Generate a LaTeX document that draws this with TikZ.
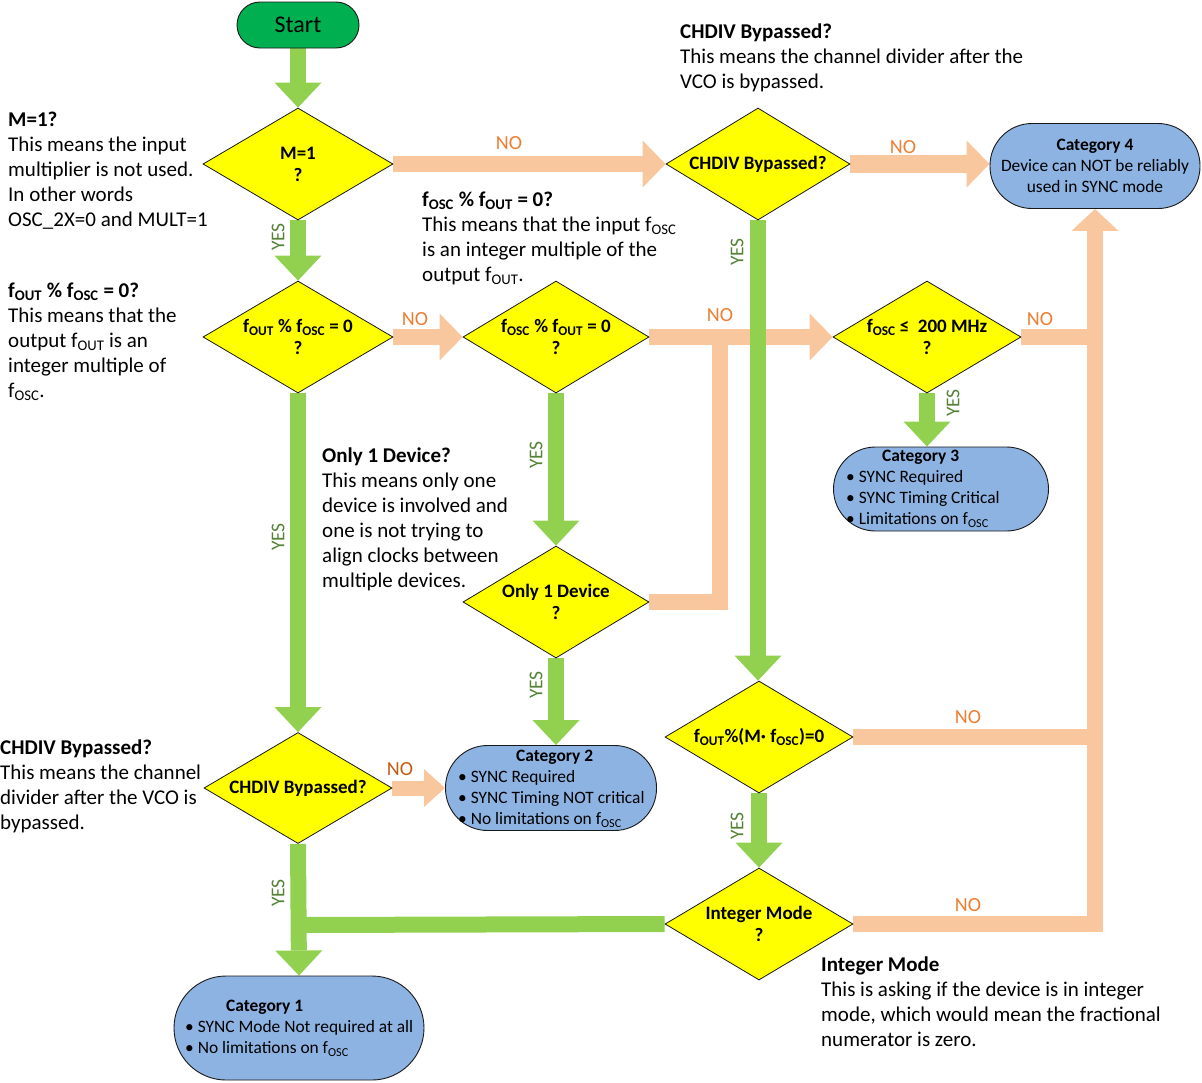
\documentclass[tikz,border=0pt]{standalone}
\usepackage{fontspec}
\setmainfont{Carlito}
\usetikzlibrary{shapes.geometric,arrows.meta}
\definecolor{grn}{RGB}{146,208,80}
\definecolor{pch}{RGB}{249,199,158}
\definecolor{ylw}{RGB}{255,255,0}
\definecolor{catb}{RGB}{141,179,226}
\definecolor{startg}{RGB}{0,176,80}
\definecolor{nocol}{RGB}{237,125,49}
\definecolor{nocold}{RGB}{197,90,17}
\definecolor{yescol}{RGB}{84,130,53}
\definecolor{edgec}{RGB}{25,25,25}
\newcommand\fOUT{f\textsubscript{OUT}}
\newcommand\fOSC{f\textsubscript{OSC}}
\pgfdeclarelayer{bg}
\pgfsetlayers{bg,main}
\begin{document}
\begin{tikzpicture}[x=1pt,y=-1pt,
  dia/.style={diamond, aspect=1.7, draw=edgec, line width=0.8pt, fill=ylw, inner sep=0pt, align=center,
    minimum height=112pt, font=\bfseries\fontsize{19}{22}\selectfont},
  catbox/.style={rectangle, draw=edgec, line width=0.9pt, fill=catb},
  cattext/.style={anchor=north west, inner sep=0pt, align=left, font=\fontsize{17.4}{21}\selectfont},
  desc/.style={anchor=north west, inner sep=0pt, align=left, font=\fontsize{21}{25}\selectfont},
  nolab/.style={text=nocol, inner sep=0pt, font=\fontsize{20}{22}\selectfont},
  yeslab/.style={text=yescol, inner sep=0pt, rotate=90, font=\fontsize{19.5}{21}\selectfont},
  parrow/.style={draw=pch, line width=16pt, -{Triangle[width=47pt,length=23pt,line width=0pt]}},
  pline/.style={draw=pch, line width=16pt},
  garrow/.style={draw=grn, line width=16pt, -{Triangle[width=47pt,length=25pt,line width=0pt]}},
  gline/.style={draw=grn, line width=16pt}
]
\useasboundingbox (0,0) rectangle (1202,1082);

% start
\node[rectangle, rounded corners=23pt, draw=edgec, line width=0.9pt, fill=startg,
  minimum width=122pt, minimum height=46pt, font=\fontsize{24}{26}\selectfont] (start) at (298,25) {Start};

% decisions
\node[dia, minimum width=190pt] (m1) at (298,164) {M=1\\?};
\node[dia, minimum width=184pt] (chdt) at (758,164) {CHDIV Bypassed?};
\node[dia, minimum width=190pt] (ff) at (298,337) {\fOUT{} \% \fOSC{} = 0\\?};
\node[dia, minimum width=186pt] (fo) at (556,337) {\fOSC{} \% \fOUT{} = 0\\?};
\node[dia, minimum width=188pt] (f200) at (927,337) {\fOSC{} ≤\ \ 200 MHz\\?};
\node[dia, minimum width=186pt] (only) at (556,602) {Only 1 Device\\?};
\node[dia, minimum width=188pt, minimum height=111pt] (chdl) at (298,788) {CHDIV Bypassed?};
\node[dia, minimum width=188pt] (fom) at (759,737) {\fOUT\%(M· \fOSC)=0};
\node[dia, minimum width=188pt] (int) at (759,924) {Integer Mode\\?};

% categories
\node[catbox, rounded corners=42pt, minimum width=210pt, minimum height=85pt, align=center,
  font=\fontsize{17.4}{21}\selectfont] (cat4) at (1095,166)
  {\textbf{Category 4}\\Device can NOT be reliably\\used in SYNC mode};
\node[catbox, rounded corners=42pt, minimum width=215pt, minimum height=84pt] (cat3) at (941,489) {};
\node[cattext] (cat3t) at (846,447) {\strut\hspace*{36pt}\textbf{Category 3}\\• SYNC Required\\• SYNC Timing Critical\\• Limitations on \fOSC};
\node[catbox, rounded corners=42pt, minimum width=211pt, minimum height=85pt] (cat2) at (551,788) {};
\node[cattext] (cat2t) at (458,747) {\strut\hspace*{58pt}\textbf{Category 2}\\• SYNC Required\\• SYNC Timing NOT critical\\• No limitations on \fOSC};
\node[catbox, rounded corners=52pt, minimum width=250pt, minimum height=104pt] (cat1) at (299,1028) {};
\node[cattext] (cat1t) at (185,997) {\strut\hspace*{41pt}\textbf{Category 1}\\• SYNC Mode Not required at all\\• No limitations on \fOSC};

% junction points
\coordinate (j1) at (720,337);
\coordinate (j2) at (1095,737);
\coordinate (j3) at (1095,337);
\coordinate (j4) at (298,925);

\begin{pgfonlayer}{bg}
\draw[parrow] (m1.east) -- (chdt.west);
\draw[parrow, line width=18pt] (chdt.east) -- (chdt.east -| cat4.west);
\draw[parrow] (ff.east) -- (fo.west);
\draw[parrow] (fo.east) -- (f200.west);
\draw[pline] (only.east) -| (j1);
\draw[pline] (f200.east) -- (j3);
\draw[pline] (fom.east) -- (j2);
\draw[parrow, -{Triangle[width=47pt,length=22pt,line width=0pt]}] (int.east) -| (cat4.south);
\draw[pline, line width=15pt, -{Triangle[width=38pt,length=21pt,line width=0pt]}] (chdl.east) -- (cat2.west);
\draw[garrow] (start.south) -- (m1.north);
\draw[garrow] (m1.south) -- (ff.north);
\draw[garrow] (ff.south) -- (chdl.north);
\draw[garrow] (fo.south) -- (only.north);
\draw[garrow] (only.south) -- (only.south |- cat2.north);
\draw[garrow] (chdt.south) -- (chdt.south |- fom.north);
\draw[garrow] (fom.south) -- (int.north);
\draw[garrow] (f200.south) -- (f200.south |- cat3.north);
\draw[garrow] (chdl.south) -- (cat1.north);
\draw[gline] (int.west) -- (j4);
\end{pgfonlayer}

% labels
\node[nolab] (no1) at (509,143) {NO};
\node[nolab] (no2) at (903,147) {NO};
\node[nolab] (no3) at (415,319) {NO};
\node[nolab] (no4) at (720,315) {NO};
\node[nolab] (no5) at (1040,319) {NO};
\node[nolab] (no6) at (968,717) {NO};
\node[nolab] (no7) at (968,905) {NO};
\node[nolab, text=nocold] (no8) at (400,769) {NO};
\node[yeslab] (y1) at (278,237) {YES};
\node[yeslab] (y2) at (278,537) {YES};
\node[yeslab] (y3) at (536,455) {YES};
\node[yeslab] (y4) at (536,685) {YES};
\node[yeslab] (y5) at (737,252) {YES};
\node[yeslab] (y6) at (953,403) {YES};
\node[yeslab] (y7) at (737,826) {YES};
\node[yeslab] (y8) at (278,893) {YES};

% descriptions
\node[desc] (d1) at (8,108.5) {\strut\textbf{M=1?}\\This means the input\\multiplier is not used.\\In other words\\OSC\_2X=0 and MULT=1};
\node[desc] (d2) at (8,279.5) {\strut\textbf{\fOUT{} \% \fOSC{} = 0?}\\This means that the\\output \fOUT{} is an\\integer multiple of\\\fOSC.};
\node[desc] (d3) at (680,20.5) {\strut\textbf{CHDIV Bypassed?}\\This means the channel divider after the\\VCO is bypassed.};
\node[desc] (d4) at (422,188.5) {\strut\textbf{\fOSC{} \% \fOUT{} = 0?}\\This means that the input \fOSC\\is an integer multiple of the\\output \fOUT.};
\node[desc] (d5) at (322,444.5) {\strut\textbf{Only 1 Device?}\\This means only one\\device is involved and\\one is not trying to\\align clocks between\\multiple devices.};
\node[desc] (d6) at (0,736.5) {\strut\textbf{CHDIV Bypassed?}\\This means the channel\\divider after the VCO is\\bypassed.};
\node[desc] (d7) at (821,953.5) {\strut\textbf{Integer Mode}\\This is asking if the device is in integer\\mode, which would mean the fractional\\numerator is zero.};
\end{tikzpicture}
\end{document}
